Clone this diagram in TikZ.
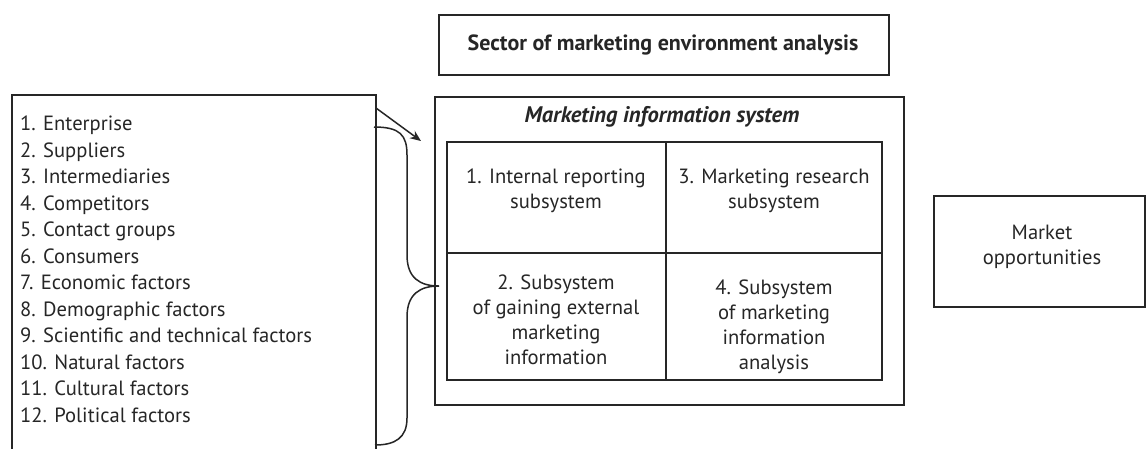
\documentclass[tikz,border=0pt]{standalone}
\usepackage{fontspec}
\setmainfont{PT Sans}
\usetikzlibrary{arrows.meta}
\begin{document}
\begin{tikzpicture}[x=1pt,y=-1pt,
  box/.style={draw=black!85,line width=2pt},
  txt/.style={inner sep=0pt,align=center,font=\fontsize{20.6}{25}\selectfont,text=black!85},
  ln/.style={draw=black!85,line width=1.5pt}]
\useasboundingbox (0,0) rectangle (1146,448);
% top box
\node[box,minimum width=450pt,minimum height=60pt,inner sep=0pt] (sector) at (664,45) {};
\node[txt,font=\fontsize{22}{25}\selectfont\bfseries] (sectort) at (663,45) {Sector of marketing environment analysis};
% left list box (open at bottom)
\coordinate (lb1) at (12,452);
\coordinate (lb2) at (12,95);
\coordinate (lb3) at (376,95);
\coordinate (lb4) at (376,452);
\draw[box] (lb1) -- (lb2) -- (lb3) -- (lb4);
\node[txt,anchor=north west,align=left,font=\fontsize{20.6}{26.5}\selectfont] (list) at (20,116) {1. Enterprise\\2. Suppliers\\3. Intermediaries\\4. Competitors\\5. Contact groups\\6. Consumers\\7. Economic factors\\8. Demographic factors\\9. Scientific and technical factors\\10. Natural factors\\11. Cultural factors\\12. Political factors};
% outer MIS box
\node[box,minimum width=469pt,minimum height=308pt,inner sep=0pt] (mis) at (669.5,251) {};
\node[txt,font=\fontsize{22.5}{25}\selectfont\bfseries\itshape] (mist) at (662,117) {Marketing information system};
% inner grid
\node[box,minimum width=219pt,minimum height=111pt,inner sep=0pt] (c1) at (556.5,197.5) {};
\node[box,minimum width=216pt,minimum height=111pt,inner sep=0pt] (c3) at (774,197.5) {};
\node[box,minimum width=219pt,minimum height=127pt,inner sep=0pt] (c2) at (556.5,316.5) {};
\node[box,minimum width=216pt,minimum height=127pt,inner sep=0pt] (c4) at (774,316.5) {};
\node[txt] (c1t) at (556,191) {1. Internal reporting\\subsystem};
\node[txt] (c3t) at (774,191) {3. Marketing research\\subsystem};
\node[txt] (c2t) at (556,320) {2. Subsystem\\of gaining external\\marketing\\information};
\node[txt] (c4t) at (774,327) {4. Subsystem\\of marketing\\information\\analysis};
% market opportunities
\node[box,minimum width=211pt,minimum height=111pt,inner sep=0pt] (market) at (1039.5,251) {};
\node[txt] (markett) at (1042,247) {Market\\opportunities};
% arrow
\coordinate (as) at (376,108);
\coordinate (ae) at (421,141);
\draw[ln,-{Stealth[length=11pt,width=9pt]}] (as) -- (ae);
% brace
\coordinate (bt) at (374,127);
\coordinate (bm) at (439,286);
\coordinate (bb) at (375,445);
\draw[ln] (bt) .. controls (400,127) and (407,135) .. (407,155)
  -- (407,255) .. controls (407,278) and (420,286) .. (bm)
  (bm) .. controls (420,286) and (407,294) .. (407,317)
  -- (407,418) .. controls (407,438) and (395,445) .. (bb);
\end{tikzpicture}
\end{document}
